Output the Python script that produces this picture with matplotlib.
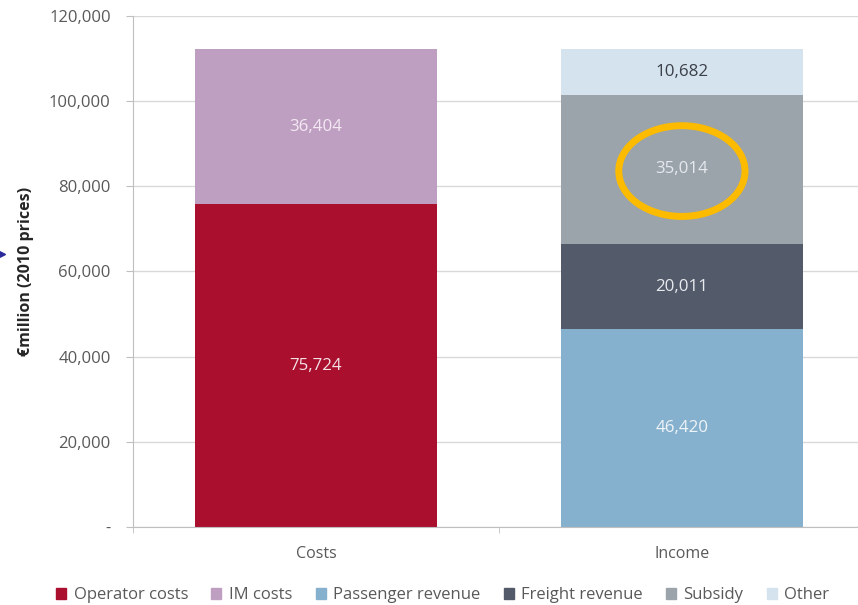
import matplotlib.pyplot as plt
import matplotlib.patches as mpatches
from matplotlib.lines import Line2D
import numpy as np

plt.rcParams['font.family'] = ['Open Sans', 'DejaVu Sans']

# stacked bar data, EUR million (2010 prices)
categories = ['Costs', 'Income']
series = ['Operator costs', 'IM costs', 'Passenger revenue', 'Freight revenue', 'Subsidy', 'Other']
costs = [75724, 36404, 0, 0, 0, 0]
income = [0, 0, 46420, 20011, 35014, 10682]
colors = ['#AA0F2D', '#BF9FC1', '#86B1CE', '#535A6A', '#9BA4AB', '#D5E3EF']
label_colors = ['#F3E3E8', '#F3E8F3', '#EEF4F8', '#E8EAEE', '#E6EAEE', '#3A3F48']
yticks = [0, 20000, 40000, 60000, 80000, 100000, 120000]
ytick_labels = ['-', '20,000', '40,000', '60,000', '80,000', '100,000', '120,000']

fig = plt.figure(figsize=(8.58, 6.05), dpi=100)
ax = fig.add_axes([0.155, 0.129, 0.853, 0.845])

x = np.arange(len(categories))
values = np.array([costs, income])
bottom = np.zeros(len(categories))
for i, name in enumerate(series):
    v = values[:, i]
    ax.bar(x, v, bottom=bottom, width=0.66, color=colors[i], label=name, zorder=2)
    for j in range(len(categories)):
        if v[j] > 0:
            ax.text(x[j], bottom[j] + v[j] / 2, f'{v[j]:,}', ha='center', va='center',
                    fontsize=12.2, color=label_colors[i], zorder=3)
    bottom += v

# highlight round the subsidy figure
sub_y = income[2] + income[3] + income[4] / 2
ax.add_patch(mpatches.Ellipse((1, sub_y - 400), 0.345, 21300, fill=False,
                              edgecolor='#FDBB00', linewidth=5, zorder=4))

ax.set_xlim(-0.5, 1.5)
ax.set_ylim(0, 120000)
ax.set_yticks(yticks)
ax.set_yticklabels(ytick_labels)
ax.set_xticks(x)
ax.set_xticklabels(categories)
ax.set_xticks([-0.5, 0.5, 1.5], minor=True)
ax.tick_params(axis='x', which='major', length=0, pad=14, labelsize=11.5, labelcolor='#595959')
ax.tick_params(axis='x', which='minor', length=4, color='#BFBFBF')
ax.tick_params(axis='y', length=5, color='#BFBFBF', labelsize=12, labelcolor='#595959', pad=11)
ax.grid(axis='y', color='#D9D9D9', linewidth=1, zorder=0)
for s in ['top', 'right']:
    ax.spines[s].set_visible(False)
ax.spines['left'].set_color('#BFBFBF')
ax.spines['bottom'].set_color('#BFBFBF')

ax.set_ylabel('€million (2010 prices)', fontsize=11.5, fontweight='bold', color='#262626', labelpad=11)

handles = [mpatches.Patch(color=c) for c in colors]
fig.legend(handles, series, loc='lower center', bbox_to_anchor=(0.516, -0.022), ncol=6,
           frameon=False, fontsize=12, labelcolor='#595959', handlelength=0.6,
           handleheight=0.7, handletextpad=0.45, columnspacing=1.4)

# small arrowhead at the left edge
fig.add_artist(Line2D([0.002], [1 - 254 / 605], marker='>', markersize=5,
                      color='#2A2A9A', transform=fig.transFigure))

fig.savefig('out.png', dpi=100)
